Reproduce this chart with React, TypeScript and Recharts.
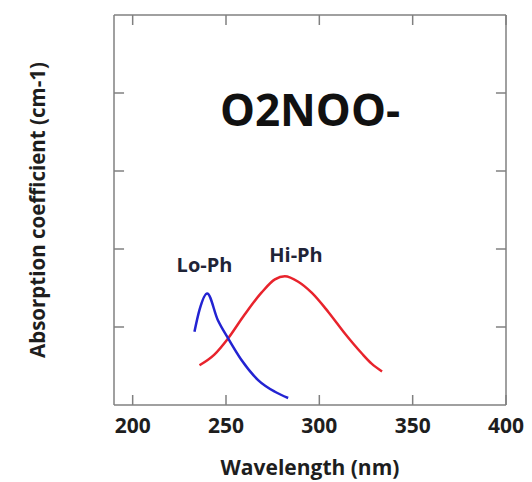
import React from 'react';
import { LineChart, Line, XAxis, YAxis, ReferenceDot, ReferenceLine } from 'recharts';

const xTicks = [200, 250, 300, 350, 400];
const yTicks = [1, 2, 3, 4];

const loPhWavelength = [233.1, 235.8, 239.9, 245.6, 251.0, 258.2, 267.2, 276.2, 283.3];
const loPhValues = [0.94, 1.22, 1.43, 1.09, 0.86, 0.58, 0.32, 0.17, 0.09];

const hiPhWavelength = [235.8, 243.9, 251.0, 260.0, 269.0, 276.2, 281.5, 288.7, 295.9, 304.9, 313.9, 322.8, 328.0, 333.6];
const hiPhValues = [0.51, 0.65, 0.85, 1.16, 1.44, 1.61, 1.65, 1.58, 1.44, 1.19, 0.91, 0.66, 0.53, 0.43];

const loPh = loPhWavelength.map((w, i) => ({ w, v: loPhValues[i] }));
const hiPh = hiPhWavelength.map((w, i) => ({ w, v: hiPhValues[i] }));

const X_DOMAIN: [number, number] = [190, 400];
const Y_DOMAIN: [number, number] = [0, 5];
const PLOT_W = 390;
const PLOT_H = 389;
const TICK_PX = 10;
const tickLenX = ((X_DOMAIN[1] - X_DOMAIN[0]) * TICK_PX) / PLOT_W;
const tickLenY = ((Y_DOMAIN[1] - Y_DOMAIN[0]) * TICK_PX) / PLOT_H;

const FRAME = '#808080';
const TEXT = '#1e1e1e';
const FONT = '"Open Sans", sans-serif';

const BottomTick = (props: any) => {
  const { x, y, payload } = props;
  return (
    <text x={x} y={y + 28} textAnchor="middle" fontFamily={FONT} fontWeight={700} fontSize={21} fill={TEXT}>
      {payload.value}
    </text>
  );
};

const XLabel = (props: any) => {
  const vb = props.viewBox || { x: 115, width: 390, y: 405 };
  return (
    <text x={vb.x + vb.width / 2} y={475} textAnchor="middle" fontFamily={FONT} fontWeight={700} fontSize={21} fill={TEXT}>
      Wavelength (nm)
    </text>
  );
};

const YLabel = (props: any) => {
  const vb = props.viewBox || { y: 16, height: 389 };
  const cy = vb.y + vb.height / 2;
  return (
    <text x={45} y={cy} transform={`rotate(-90 45 ${cy})`} textAnchor="middle" fontFamily={FONT} fontWeight={700} fontSize={20.5} fill={TEXT}>
      Absorption coefficient (cm-1)
    </text>
  );
};

const tickStyle = { stroke: FRAME, strokeWidth: 1.5 };

export default function App() {
  return (
    <div style={{ position: 'absolute', left: 0, top: 0, background: '#fff' }}>
      <LineChart width={532} height={482} margin={{ top: 15, right: 26, bottom: 0, left: 114 }}>
        <XAxis
          xAxisId="b"
          dataKey="w"
          type="number"
          domain={X_DOMAIN}
          ticks={xTicks}
          allowDataOverflow
          height={77}
          tickLine={false}
          tickSize={0}
          tickMargin={0}
          tick={<BottomTick />}
          axisLine={{ stroke: FRAME, strokeWidth: 1.5 }}
          label={<XLabel />}
        />
        <XAxis
          xAxisId="t"
          dataKey="w"
          type="number"
          orientation="top"
          domain={X_DOMAIN}
          ticks={xTicks}
          allowDataOverflow
          height={1}
          mirror
          tick={false}
          tickLine={false}
          axisLine={{ stroke: FRAME, strokeWidth: 1.5 }}
        />
        <YAxis
          yAxisId="l"
          type="number"
          domain={Y_DOMAIN}
          allowDataOverflow
          width={1}
          mirror
          tick={false}
          tickLine={false}
          axisLine={{ stroke: FRAME, strokeWidth: 1.5 }}
          label={<YLabel />}
        />
        <YAxis
          yAxisId="r"
          type="number"
          orientation="right"
          domain={Y_DOMAIN}
          allowDataOverflow
          width={1}
          mirror
          tick={false}
          tickLine={false}
          axisLine={{ stroke: FRAME, strokeWidth: 1.5 }}
        />
        <Line
          xAxisId="t"
          yAxisId="r"
          data={hiPh}
          dataKey="v"
          stroke="none"
          dot={false}
          activeDot={false}
          isAnimationActive={false}
        />
        {xTicks.map((t) => (
          <ReferenceLine
            key={`xb${t}`}
            xAxisId="b"
            yAxisId="l"
            segment={[{ x: t, y: Y_DOMAIN[0] }, { x: t, y: Y_DOMAIN[0] + tickLenY }]}
            {...tickStyle}
          />
        ))}
        {xTicks.map((t) => (
          <ReferenceLine
            key={`xt${t}`}
            xAxisId="b"
            yAxisId="l"
            segment={[{ x: t, y: Y_DOMAIN[1] }, { x: t, y: Y_DOMAIN[1] - tickLenY }]}
            {...tickStyle}
          />
        ))}
        {yTicks.map((t) => (
          <ReferenceLine
            key={`yl${t}`}
            xAxisId="b"
            yAxisId="l"
            segment={[{ x: X_DOMAIN[0], y: t }, { x: X_DOMAIN[0] + tickLenX, y: t }]}
            {...tickStyle}
          />
        ))}
        {yTicks.map((t) => (
          <ReferenceLine
            key={`yr${t}`}
            xAxisId="b"
            yAxisId="l"
            segment={[{ x: X_DOMAIN[1], y: t }, { x: X_DOMAIN[1] - tickLenX, y: t }]}
            {...tickStyle}
          />
        ))}
        <Line
          xAxisId="b"
          yAxisId="l"
          data={hiPh}
          dataKey="v"
          type="monotone"
          stroke="#e8232c"
          strokeWidth={2.5}
          dot={false}
          activeDot={false}
          isAnimationActive={false}
        />
        <Line
          xAxisId="b"
          yAxisId="l"
          data={loPh}
          dataKey="v"
          type="monotone"
          stroke="#2323d2"
          strokeWidth={2.5}
          dot={false}
          activeDot={false}
          isAnimationActive={false}
        />
        <ReferenceDot
          xAxisId="b"
          yAxisId="l"
          x={295}
          y={3.78}
          r={0}
          fill="none"
          stroke="none"
          label={{ value: 'O2NOO-', position: 'center', fontFamily: FONT, fontWeight: 700, fontSize: 44, fill: '#111' }}
        />
        <ReferenceDot
          xAxisId="b"
          yAxisId="l"
          x={238.5}
          y={1.8}
          r={0}
          fill="none"
          stroke="none"
          label={{ value: 'Lo-Ph', position: 'center', fontFamily: FONT, fontWeight: 700, fontSize: 20, fill: '#1f2437' }}
        />
        <ReferenceDot
          xAxisId="b"
          yAxisId="l"
          x={287.5}
          y={1.93}
          r={0}
          fill="none"
          stroke="none"
          label={{ value: 'Hi-Ph', position: 'center', fontFamily: FONT, fontWeight: 700, fontSize: 20, fill: '#1f2437' }}
        />
      </LineChart>
    </div>
  );
}
